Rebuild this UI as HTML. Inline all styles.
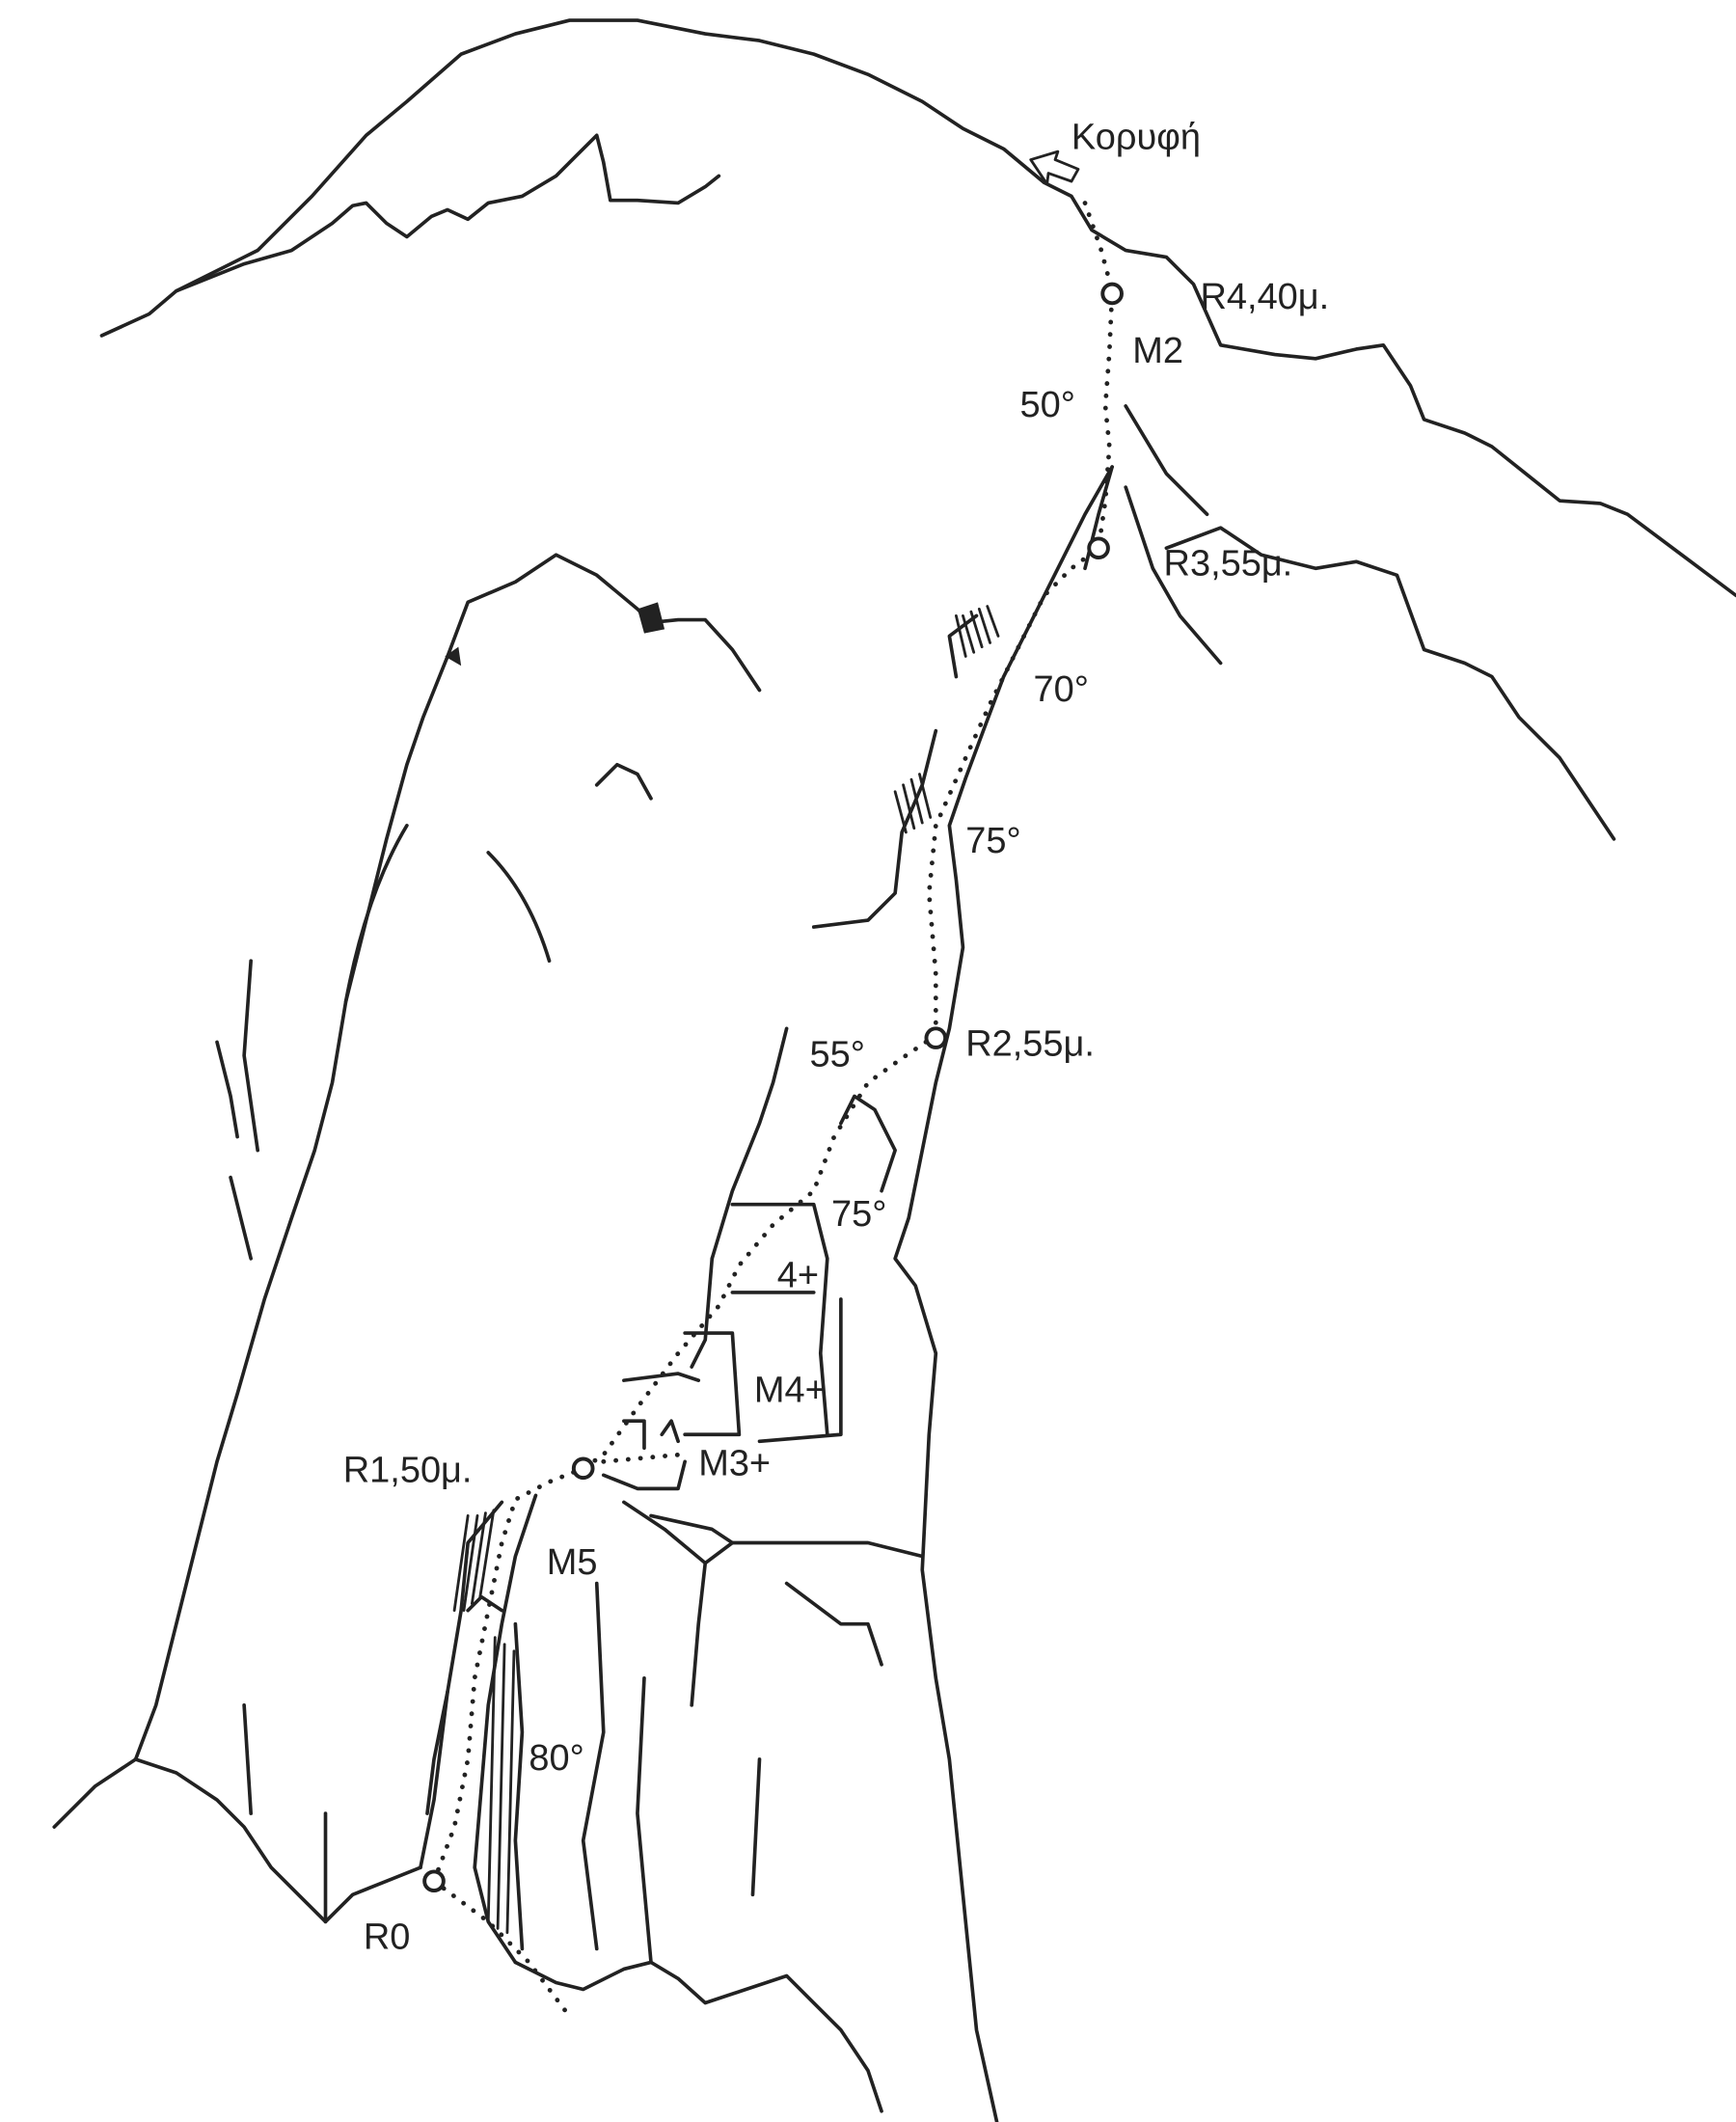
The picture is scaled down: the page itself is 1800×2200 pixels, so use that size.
<!DOCTYPE html>
<html><head><meta charset="utf-8"><style>
html,body{margin:0;padding:0;background:#fff;}
svg{display:block;}
text{font-family:"Liberation Sans","DejaVu Sans",sans-serif;font-size:27px;fill:#222;}
</style></head><body>
<svg width="1800" height="2200" viewBox="0 0 1280 1568" preserveAspectRatio="none" xmlns="http://www.w3.org/2000/svg">
<rect width="1280" height="1568" fill="#fff"/>
<g fill="none" stroke="#222" stroke-width="2.6" stroke-linejoin="round" stroke-linecap="round">
<path d="M75,248 L110,232 130,215 160,200 190,185 230,145 270,100 300,75 340,40 380,25 420,15 470,15 520,25 560,30 600,40 640,55 680,75 710,95 740,110 770,135 790,145 805,170 830,185 860,190 880,210 900,255 940,262 970,265 1000,258 1020,255 1040,285 1050,310 1080,320 1100,330 1125,350 1150,370 1180,372 1200,380 1240,410 1280,440"/>
<path d="M130,215 L180,195 215,185 245,165 260,152 270,150 285,165 300,175 318,160 330,155 345,162 360,150 385,145 410,130 425,115 440,100 445,120 450,148 470,148 500,150 520,138 530,130"/>
<path d="M330,485 L345,445 380,430 410,410 440,425 470,450 480,460 500,458 520,458 540,480 560,510"/>
<path d="M440,580 L455,565 470,572 480,590"/>
<path d="M360,630 Q390,660 405,710"/>
<path d="M255,740 Q270,660 300,610"/>
<path d="M330,485 L312,530 300,565 285,620 270,680 255,740 245,800 232,850 215,900 195,960 175,1030 160,1080 145,1140 130,1200 115,1260 100,1300"/>
<path d="M185,710 L180,780 190,850"/>
<path d="M160,770 L170,810 175,840"/>
<path d="M170,870 L185,930"/>
<path d="M100,1300 L70,1320 40,1350"/>
<path d="M100,1300 L130,1310 160,1330 180,1350 200,1380 220,1400 240,1420 260,1400 290,1388 310,1380"/>
<path d="M830,360 L850,420 870,455 900,490"/>
<path d="M860,405 L900,390 930,410 970,420 1000,415 1030,425 1050,480 1080,490 1100,500 1120,530 1150,560 1170,590 1190,620"/>
<path d="M830,300 L860,350 890,380"/>
<path d="M820,345 L800,380 780,420 760,460 740,500 725,540 712,575 700,610 705,650 710,700 700,760 690,800 680,850 670,900 660,930 675,950 690,1000 685,1060 680,1160 690,1240 700,1300 710,1400 720,1500 735,1568"/>
<path d="M820,345 L810,380 800,420"/>
<path d="M720,455 L700,470 705,500"/>
<path d="M690,540 L680,580 665,615 660,660 640,680 600,685"/>
<path d="M580,760 L570,800 560,830 540,880 525,930"/>
<path d="M620,830 L630,810 645,820 660,850 650,880"/>
<path d="M540,890 L600,890 610,930 605,1000 610,1060"/>
<path d="M540,955 L600,955"/>
<path d="M525,930 L520,990 510,1010"/>
<path d="M505,985 L540,985 545,1060 505,1060"/>
<path d="M620,960 L620,1060 560,1065"/>
<path d="M460,1020 L500,1015 515,1020"/>
<path d="M460,1050 L475,1050 475,1070 M488,1060 L495,1050 500,1065"/>
<path d="M445,1090 L470,1100 500,1100 505,1080"/>
<path d="M460,1110 L490,1130 520,1155 540,1140 525,1130 480,1120"/>
<path d="M540,1140 L580,1140 640,1140 680,1150"/>
<path d="M520,1155 L515,1200 510,1260"/>
<path d="M580,1170 L620,1200 640,1200 650,1230"/>
<path d="M370,1110 L345,1140 340,1190 330,1250 320,1330 310,1380"/>
<path d="M395,1105 L380,1150 370,1200 360,1260 355,1320 350,1380 360,1420 380,1450"/>
<path d="M345,1190 L355,1180 370,1190"/>
<path d="M330,1250 L320,1300 315,1340"/>
<path d="M380,1200 L385,1280 380,1360 385,1440"/>
<path d="M440,1170 L445,1280 430,1360 440,1440"/>
<path d="M475,1240 L470,1340 480,1450"/>
<path d="M560,1300 L555,1400"/>
<path d="M240,1340 L240,1420 M180,1260 L185,1340"/>
<path d="M380,1450 L410,1465 430,1470 460,1455 480,1450 500,1462 520,1480 550,1470 580,1460 600,1480 620,1500 640,1530 650,1560"/>
<path d="M705,455 L712,485 M710,455 L718,482 M716,452 L724,478 M722,450 L730,475 M728,448 L736,470" stroke-width="2"/>
<path d="M660,585 L668,615 M666,580 L674,612 M672,576 L680,608 M678,572 L686,604" stroke-width="2"/>
<path d="M345,1120 L335,1190 M352,1120 L342,1190 M358,1118 L348,1185 M364,1116 L354,1180" stroke-width="2"/>
<path d="M365,1210 L360,1420 M372,1215 L367,1425 M379,1220 L374,1428" stroke-width="2"/>
<path d="M760,118 L780,112 778,118 795,125 790,134 773,128 772,136 Z" stroke-width="2"/>
</g>
<path d="M470,450 L485,445 490,465 475,468 Z" fill="#222"/>
<path d="M328,485 L338,478 340,492 Z" fill="#222"/>
<path d="M800,150 L812,185 820,215 818,260 815,300 818,330 815,370 810,405 790,420 770,440 750,480 730,520 712,560 690,610 685,660 690,720 690,765 665,782 640,800 615,840 600,880 570,905 545,935 530,965 500,1000 470,1040 445,1075 430,1085 405,1095 380,1108 370,1140 360,1190 350,1240 345,1300 335,1350 320,1390 360,1420 390,1450 420,1490" fill="none" stroke="#222" stroke-width="3.4" stroke-dasharray="0.1 9" stroke-linecap="round"/>
<path d="M445,1080 L500,1075" fill="none" stroke="#222" stroke-width="3.4" stroke-dasharray="0.1 9" stroke-linecap="round"/>
<g fill="#fff" stroke="#222" stroke-width="2.8">
<circle cx="820" cy="217" r="7"/><circle cx="810" cy="405" r="7"/><circle cx="690" cy="767" r="7"/><circle cx="430" cy="1085" r="7"/><circle cx="320" cy="1390" r="7"/>
</g>
<text x="790" y="110" font-size="30">Κορυφή</text>
<text x="885" y="228">R4,40μ.</text>
<text x="835" y="268">M2</text>
<text x="752" y="308">50°</text>
<text x="858" y="425">R3,55μ.</text>
<text x="762" y="518">70°</text>
<text x="712" y="630">75°</text>
<text x="712" y="780">R2,55μ.</text>
<text x="597" y="788">55°</text>
<text x="613" y="906">75°</text>
<text x="573" y="951">4+</text>
<text x="556" y="1036">M4+</text>
<text x="515" y="1090" font-size="22">M3+</text>
<text x="253" y="1095">R1,50μ.</text>
<text x="403" y="1163">M5</text>
<text x="390" y="1308">80°</text>
<text x="268" y="1440">R0</text>
</svg>
</body></html>
